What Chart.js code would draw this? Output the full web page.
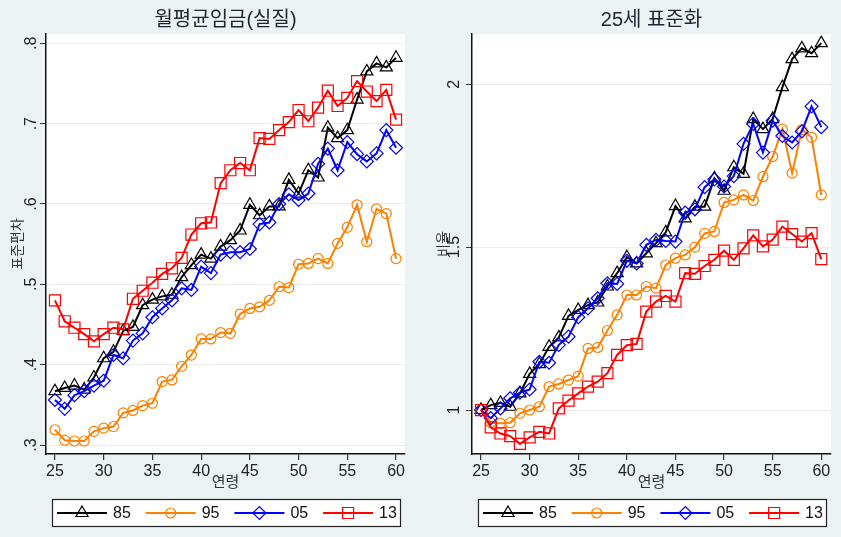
<!DOCTYPE html>
<html><head><meta charset="utf-8">
<script src="https://cdn.jsdelivr.net/npm/chart.js@4"></script>
<style>
html,body{margin:0;padding:0;background:#eaf2f3;}
#wrap{position:relative;width:841px;height:537px;overflow:hidden;background:#eaf2f3;}
canvas{position:absolute;top:0;}
#c1{left:0;} #c2{left:420px;}
</style></head><body>
<div id="wrap"><canvas id="c1" width="420" height="537"></canvas><canvas id="c2" width="421" height="537"></canvas></div>
<script>
// ---- data ----
const ages = [25,26,27,28,29,30,31,32,33,34,35,36,37,38,39,40,41,42,43,44,45,46,47,48,49,50,51,52,53,54,55,56,57,58,59,60];
const seriesNames = ['85','95','05','13'];

// left panel: standard deviation of monthly real wage
const wage85 = [.367,.371,.374,.369,.384,.408,.416,.442,.447,.474,.481,.485,.487,.509,.524,.537,.532,.547,.555,.567,.599,.586,.597,.597,.630,.613,.642,.633,.695,.682,.692,.730,.765,.775,.770,.782];
const wage95 = [.319,.306,.305,.305,.317,.321,.323,.340,.343,.349,.352,.379,.381,.398,.412,.432,.432,.440,.439,.463,.470,.472,.480,.497,.496,.525,.526,.532,.526,.551,.571,.599,.553,.594,.588,.532];
const wage05 = [.356,.345,.362,.367,.374,.380,.412,.408,.430,.439,.459,.470,.480,.495,.493,.522,.514,.537,.540,.540,.544,.575,.577,.600,.612,.605,.613,.650,.669,.642,.677,.662,.653,.663,.692,.670];
const wage13 = [.480,.454,.446,.438,.429,.438,.446,.444,.482,.492,.502,.513,.520,.533,.562,.576,.577,.626,.642,.651,.642,.682,.681,.692,.702,.717,.703,.720,.741,.722,.732,.753,.740,.728,.742,.705];

// right panel: standardized at age 25 (ratio)
const std85 = [1.000,1.015,1.022,1.010,1.051,1.111,1.141,1.194,1.223,1.289,1.307,1.322,1.330,1.379,1.420,1.469,1.450,1.481,1.512,1.545,1.626,1.588,1.624,1.624,1.711,1.673,1.745,1.725,1.893,1.862,1.893,1.991,2.077,2.110,2.095,2.126];
const std95 = [1.000,0.961,0.959,0.961,0.990,1.000,1.010,1.072,1.080,1.092,1.104,1.189,1.192,1.244,1.292,1.353,1.353,1.379,1.374,1.445,1.466,1.476,1.500,1.542,1.548,1.637,1.645,1.660,1.643,1.716,1.778,1.862,1.727,1.860,1.837,1.660];
const std05 = [1.000,0.975,1.005,1.036,1.053,1.063,1.148,1.145,1.200,1.225,1.285,1.312,1.343,1.389,1.387,1.458,1.450,1.507,1.522,1.519,1.517,1.606,1.616,1.684,1.708,1.686,1.718,1.817,1.878,1.790,1.888,1.841,1.821,1.855,1.932,1.868];
const std13 = [1.000,0.947,0.928,0.920,0.896,0.916,0.933,0.928,1.005,1.029,1.051,1.072,1.087,1.113,1.169,1.199,1.203,1.302,1.333,1.350,1.333,1.420,1.418,1.442,1.461,1.489,1.461,1.496,1.536,1.502,1.523,1.563,1.540,1.517,1.543,1.463];

const xTicks = [25,30,35,40,45,50,55,60];
const leftYTicks = [0.3,0.4,0.5,0.6,0.7,0.8];
const leftYLabels = ['.3','.4','.5','.6','.7','.8'];
const rightYTicks = [1,1.5,2];
const rightYLabels = ['1','1.5','2'];
const titles = ['월평균임금(실질)','25세 표준화'];
const yTitles = ['표준편차','비율'];
const xTitle = '연령';

// ---- styles ----
const FONT = '"Liberation Sans", "Noto Sans CJK KR", sans-serif';
Chart.defaults.font.family = FONT;
const styles = [
  {color:'#000000', point:'triangle', radius:7},
  {color:'#ff7f00', point:'circle', radius:5},
  {color:'#0000ff', point:'rectRot', radius:6.5},
  {color:'#ff0000', point:'rect', radius:7.8}
];

function makeDatasets(list){
  return list.map((vals,i)=>({
    label: seriesNames[i],
    data: ages.map((a,k)=>({x:a, y:vals[k]})),
    borderColor: styles[i].color,
    borderWidth: 2,
    tension: 0,
    pointStyle: styles[i].point,
    pointRadius: styles[i].radius,
    pointBorderWidth: 1.2,
    pointBorderColor: styles[i].color,
    pointBackgroundColor: 'rgba(0,0,0,0)',
    order: 4 - i
  }));
}

const panelPlugin = {
  id: 'panel',
  beforeDraw(chart){
    const {ctx, chartArea:a} = chart;
    ctx.save();
    ctx.fillStyle = '#ffffff';
    ctx.fillRect(a.left, a.top, a.right - a.left, a.bottom - a.top);
    ctx.restore();
  },
  afterDraw(chart, args, opts){
    const {ctx, chartArea:a} = chart;
    ctx.save();
    // title
    ctx.fillStyle = '#1b2631';
    ctx.font = '20px ' + FONT;
    ctx.textAlign = 'center';
    ctx.textBaseline = 'middle';
    ctx.fillText(opts.title, (a.left + a.right)/2, 20);
    // legend box
    const L = opts.legendLeft, T = 499, W = 348, H = 27;
    ctx.fillStyle = '#ffffff';
    ctx.fillRect(L, T, W, H);
    ctx.strokeStyle = '#222';
    ctx.lineWidth = 1.2;
    ctx.strokeRect(L + 0.5, T + 0.5, W, H);
    const cy = T + H/2 + 0.5;
    chart.data.datasets.forEach((ds, i) => {
      const x0 = L + 5 + i*88.7;
      ctx.strokeStyle = ds.borderColor;
      ctx.lineWidth = 2;
      ctx.beginPath(); ctx.moveTo(x0, cy); ctx.lineTo(x0 + 50, cy); ctx.stroke();
      ctx.lineWidth = 1.2;
      ctx.fillStyle = 'rgba(0,0,0,0)';
      Chart.helpers.drawPoint(ctx, {pointStyle: ds.pointStyle, radius: ds.pointRadius, borderWidth: 1.2, rotation: 0}, x0 + 25, cy);
      ctx.fillStyle = '#111';
      ctx.font = '16px ' + FONT;
      ctx.textAlign = 'left';
      ctx.textBaseline = 'middle';
      ctx.fillText(ds.label, x0 + 56, cy + 1);
    });
    ctx.restore();
  }
};

function makeChart(id, list, yMin, yMax, yTicks, yLabels, title, yTitle, g){
  return new Chart(document.getElementById(id), {
    type: 'line',
    data: { datasets: makeDatasets(list) },
    plugins: [panelPlugin],
    options: {
      responsive: false, animation: false, devicePixelRatio: 1,
      layout: { padding: { top: 34, bottom: 43, left: 0, right: g.padRight } },
      plugins: { legend: {display:false}, tooltip: {enabled:false}, title:{display:false},
        panel: { title: title, legendLeft: g.legendLeft } },
      scales: {
        x: {
          type: 'linear', min: g.xMin, max: g.xMax,
          afterBuildTicks: s => { s.ticks = xTicks.map(v => ({value: v})); },
          afterFit: s => { s.height = 40; },
          ticks: { autoSkip: false, maxRotation: 0, minRotation: 0, padding: 2, color: '#222', font: {size: 16},
            callback: v => String(v) },
          grid: { drawOnChartArea: false, tickColor: '#333', tickLength: 6, lineWidth: 1.2 },
          border: { display: true, color: '#111', width: 1.5 },
          title: { display: true, text: xTitle, color: '#333', font: {size: 15}, padding: {top: 0, bottom: 2} }
        },
        y: {
          min: yMin, max: yMax,
          afterBuildTicks: s => { s.ticks = yTicks.map(v => ({value: v})); },
          afterFit: s => { s.width = g.yWidth; },
          ticks: { autoSkip: false, minRotation: 90, maxRotation: 90, crossAlign: 'center', padding: g.yPad, color: '#222', font: {size: 16},
            callback: (v, i) => yLabels[i] },
          grid: { color: '#e6eef0', lineWidth: 1, tickColor: '#333', tickLength: 6 },
          border: { display: true, color: '#111', width: 1.5 },
          title: { display: true, text: yTitle, color: '#333', font: {size: 14}, padding: {top: g.yTitlePad, bottom: 0} }
        }
      }
    }
  });
}

makeChart('c1', [wage85, wage95, wage05, wage13], 0.2888, 0.8116, leftYTicks, leftYLabels, titles[0], yTitles[0],
  {xMin: 24.08, xMax: 60.92, yWidth: 46, padRight: 15, legendLeft: 52, yPad: 2, yTitlePad: 10});
makeChart('c2', [std85, std95, std05, std13], 0.865, 2.154, rightYTicks, rightYLabels, titles[1], yTitles[1],
  {xMin: 24.07, xMax: 61.0, yWidth: 52, padRight: 10, legendLeft: 58, yPad: 0, yTitlePad: 16});
</script>
</body></html>
